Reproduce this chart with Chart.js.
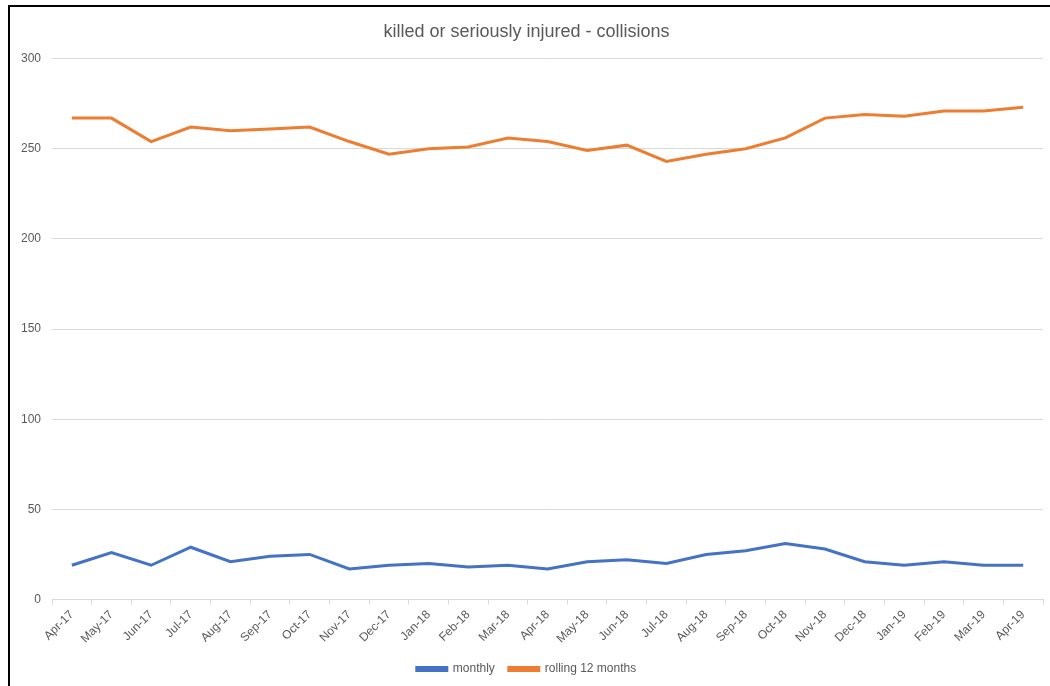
<!DOCTYPE html>
<html>
<head>
<meta charset="utf-8">
<script src="https://cdn.jsdelivr.net/npm/chart.js@4"></script>
<style>
  html, body { margin: 0; padding: 0; background: #fff; overflow: hidden; }
  #frame { position: absolute; left: 8px; top: 5px; width: 1100px; height: 700px;
           border-left: 2px solid #000; border-top: 2px solid #000; }
  #wrap { position: absolute; left: 0; top: 0; width: 1050px; height: 686px; }
</style>
</head>
<body>
<div id="frame"></div>
<div id="wrap"><canvas id="kssiChart"></canvas></div>
<script>
// Data
const months = ['Apr-17', 'May-17', 'Jun-17', 'Jul-17', 'Aug-17', 'Sep-17', 'Oct-17', 'Nov-17', 'Dec-17',
  'Jan-18', 'Feb-18', 'Mar-18', 'Apr-18', 'May-18', 'Jun-18', 'Jul-18', 'Aug-18', 'Sep-18', 'Oct-18',
  'Nov-18', 'Dec-18', 'Jan-19', 'Feb-19', 'Mar-19', 'Apr-19'];
const monthly = [19, 26, 19, 29, 21, 24, 25, 17, 19, 20, 18, 19, 17, 21, 22, 20, 25, 27, 31, 28, 21, 19, 21, 19, 19];
const rolling12 = [267, 267, 254, 262, 260, 261, 262, 254, 247, 250, 251, 256, 254, 249, 252, 243, 247, 250, 256,
  267, 269, 268, 271, 271, 273];

const textColor = '#595959';
const gridColor = '#d9d9d9';

const ctx = document.getElementById('kssiChart').getContext('2d');
new Chart(ctx, {
  type: 'line',
  data: {
    labels: months,
    datasets: [{
      label: 'monthly',
      data: monthly,
      borderColor: '#4472C4',
      backgroundColor: '#4472C4',
      borderWidth: 3,
      pointRadius: 0,
      tension: 0
    }, {
      label: 'rolling 12 months',
      data: rolling12,
      borderColor: '#ED7D31',
      backgroundColor: '#ED7D31',
      borderWidth: 3,
      pointRadius: 0,
      tension: 0
    }]
  },
  options: {
    responsive: true,
    maintainAspectRatio: false,
    animation: false,
    layout: { padding: { left: 10, right: 7, top: 19, bottom: 1 } },
    plugins: {
      title: {
        display: true,
        text: 'killed or seriously injured - collisions',
        color: textColor,
        font: { family: 'Liberation Sans', size: 18, weight: 'normal' },
        padding: { top: 2, bottom: 16 }
      },
      legend: {
        position: 'bottom',
        labels: {
          color: textColor,
          boxWidth: 30,
          boxHeight: 3,
          padding: 14,
          font: { family: 'Liberation Sans', size: 12 }
        }
      },
      tooltip: { enabled: false }
    },
    scales: {
      x: {
        offset: true,
        grid: { display: true, drawOnChartArea: false, drawTicks: true, tickLength: 5, offset: true, color: gridColor },
        border: { color: gridColor },
        ticks: {
          color: textColor,
          maxRotation: 45,
          minRotation: 45,
          autoSkip: false,
          font: { family: 'Liberation Sans', size: 12 }
        }
      },
      y: {
        min: 0,
        max: 300,
        ticks: {
          stepSize: 50,
          color: textColor,
          padding: 11,
          font: { family: 'Liberation Sans', size: 12 }
        },
        grid: { color: gridColor, drawTicks: false },
        border: { display: false }
      }
    }
  }
});
</script>
</body>
</html>
